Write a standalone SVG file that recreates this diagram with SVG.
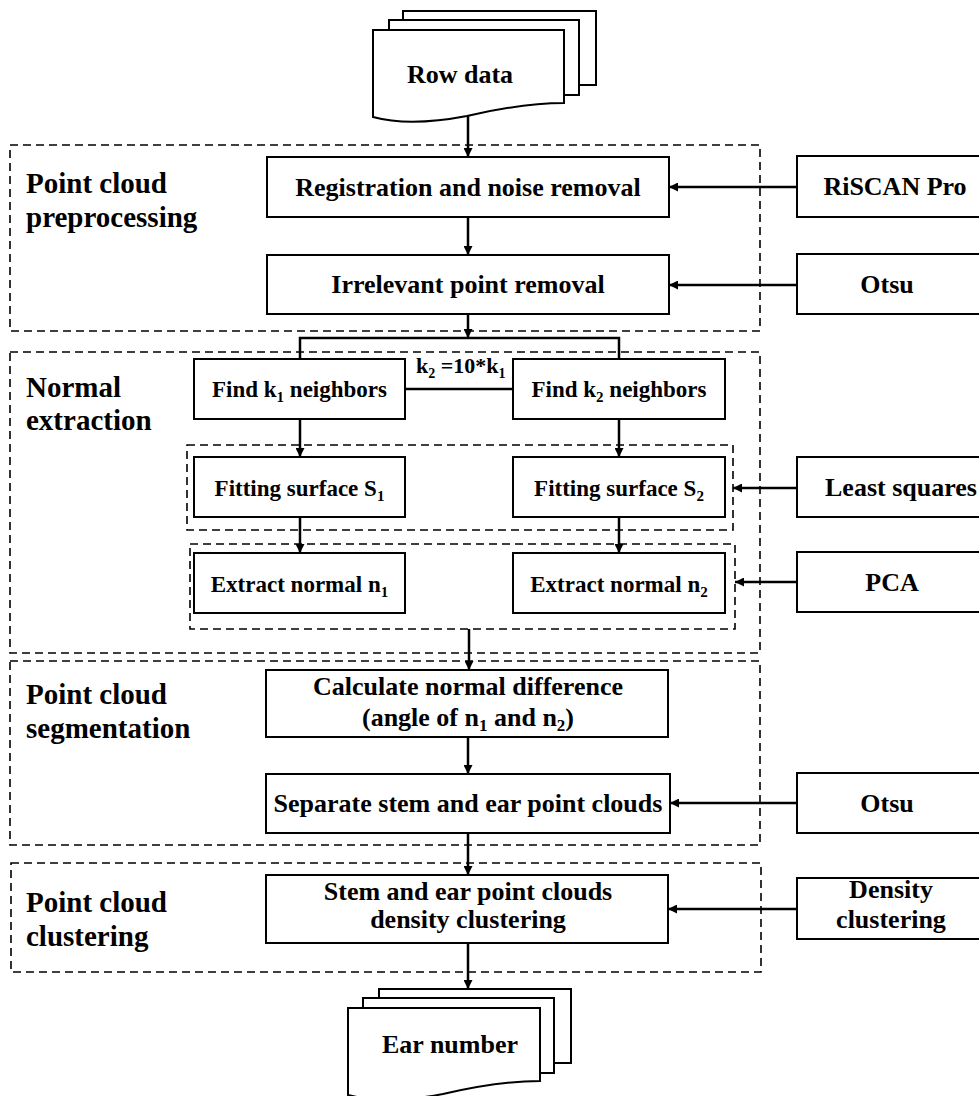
<svg xmlns="http://www.w3.org/2000/svg" width="979" height="1096" viewBox="0 0 979 1096">
<style>
.box{fill:#fff;stroke:#000;stroke-width:2}
.dash{fill:none;stroke:#000;stroke-width:1.6;stroke-dasharray:8 5}
.t{font-family:"Liberation Serif","Times New Roman",serif;font-weight:bold;fill:#000;font-size:26px}
.m{text-anchor:middle}
.s{font-size:23px}
.lab{font-size:29px}
.kl{font-size:22px}
.conn line,.conn path{stroke:#000;stroke-width:2.5;fill:none}
</style>
<defs>
<marker id="ah" viewBox="0 0 10 10" refX="10" refY="5" markerWidth="11" markerHeight="9" markerUnits="userSpaceOnUse" orient="auto">
<path d="M0,0 L10,5 L0,10 z" fill="#000"/>
</marker>
</defs>
<rect width="979" height="1096" fill="#fff"/>

<g id="sections">
<rect class="dash" x="10" y="145" width="750" height="186"/>
<rect class="dash" x="10" y="352" width="750" height="301"/>
<rect class="dash" x="187" y="445" width="546" height="85"/>
<rect class="dash" x="190" y="544" width="545" height="85"/>
<rect class="dash" x="10" y="661" width="750" height="184"/>
<rect class="dash" x="11" y="863" width="750" height="109"/>
<text class="t lab" x="26" y="193">Point cloud</text>
<text class="t lab" x="26" y="227">preprocessing</text>
<text class="t lab" x="26" y="397">Normal</text>
<text class="t lab" x="26" y="430">extraction</text>
<text class="t lab" x="26" y="704">Point cloud</text>
<text class="t lab" x="26" y="738">segmentation</text>
<text class="t lab" x="26" y="912">Point cloud</text>
<text class="t lab" x="26" y="946">clustering</text>
</g>

<g id="row-data">
<rect class="box" x="403" y="11" width="193" height="74"/>
<rect class="box" x="389" y="20" width="190" height="75"/>
<path class="box" d="M373,30 H564 V103 C540,103 510,106 467,116 C425,124 395,123 373,117 Z"/>
<text class="t m" x="460" y="83">Row data</text>
</g>

<g id="registration">
<rect class="box" x="267" y="157" width="402" height="60"/>
<text class="t m" x="468" y="196">Registration and noise removal</text>
</g>
<g id="irrelevant">
<rect class="box" x="267" y="255" width="402" height="59"/>
<text class="t m" x="468" y="293">Irrelevant point removal</text>
</g>
<g id="riscan">
<rect class="box" x="797" y="156" width="200" height="61"/>
<text class="t m" x="895" y="195">RiSCAN Pro</text>
</g>
<g id="otsu1">
<rect class="box" x="797" y="254" width="200" height="60"/>
<text class="t m" x="887" y="293">Otsu</text>
</g>

<g id="find-k1">
<rect class="box" x="194" y="359" width="211" height="60"/>
<text class="t s m" x="299.5" y="397">Find k<tspan font-size="15" dy="5">1</tspan><tspan dy="-5"> neighbors</tspan></text>
</g>
<g id="find-k2">
<rect class="box" x="513" y="359" width="212" height="60"/>
<text class="t s m" x="619" y="397">Find k<tspan font-size="15" dy="5">2</tspan><tspan dy="-5"> neighbors</tspan></text>
</g>
<g id="fit-s1">
<rect class="box" x="194" y="457" width="211" height="60"/>
<text class="t s m" x="299.5" y="496">Fitting surface S<tspan font-size="15" dy="5">1</tspan></text>
</g>
<g id="fit-s2">
<rect class="box" x="513" y="457" width="212" height="60"/>
<text class="t s m" x="619" y="496">Fitting surface S<tspan font-size="15" dy="5">2</tspan></text>
</g>
<g id="ext-n1">
<rect class="box" x="194" y="553" width="211" height="60"/>
<text class="t s m" x="299.5" y="592">Extract normal n<tspan font-size="15" dy="5">1</tspan></text>
</g>
<g id="ext-n2">
<rect class="box" x="513" y="553" width="212" height="60"/>
<text class="t s m" x="619" y="592">Extract normal n<tspan font-size="15" dy="5">2</tspan></text>
</g>
<g id="least-squares">
<rect class="box" x="797" y="457" width="210" height="60"/>
<text class="t" x="825" y="496">Least squares</text>
</g>
<g id="pca">
<rect class="box" x="797" y="552" width="210" height="60"/>
<text class="t m" x="892" y="591">PCA</text>
</g>

<g id="calc">
<rect class="box" x="266" y="670" width="402" height="67"/>
<text class="t m" x="468" y="695">Calculate normal difference</text>
<text class="t m" x="468" y="726">(angle of n<tspan font-size="17" dy="5">1</tspan><tspan dy="-5"> and n</tspan><tspan font-size="17" dy="5">2</tspan><tspan dy="-5">)</tspan></text>
</g>
<g id="separate">
<rect class="box" x="266" y="774" width="404" height="59"/>
<text class="t m" x="468" y="812">Separate stem and ear point clouds</text>
</g>
<g id="otsu2">
<rect class="box" x="797" y="773" width="200" height="60"/>
<text class="t m" x="887" y="812">Otsu</text>
</g>

<g id="cluster">
<rect class="box" x="266" y="875" width="402" height="68"/>
<text class="t m" x="468" y="900">Stem and ear point clouds</text>
<text class="t m" x="468" y="928">density clustering</text>
</g>
<g id="density">
<rect class="box" x="797" y="878" width="200" height="61"/>
<text class="t m" x="891" y="898">Density</text>
<text class="t m" x="891" y="928">clustering</text>
</g>

<g id="ear-number">
<rect class="box" x="379" y="989" width="192" height="74"/>
<rect class="box" x="363" y="998" width="191" height="75"/>
<path class="box" d="M348,1008 H540 V1081 C516,1081 486,1084 443,1094 C401,1102 371,1101 348,1095 Z"/>
<text class="t m" x="450" y="1053">Ear number</text>
</g>

<g id="k-label">
<text class="t kl" x="416" y="373">k<tspan font-size="14" dy="5">2</tspan><tspan dy="-5"> =10*k</tspan><tspan font-size="14" dy="5">1</tspan></text>
</g>

<g class="conn" id="connectors">
<line x1="468" y1="116" x2="468" y2="157" marker-end="url(#ah)"/>
<line x1="468" y1="217" x2="468" y2="255" marker-end="url(#ah)"/>
<line x1="797" y1="187" x2="669" y2="187" marker-end="url(#ah)"/>
<line x1="797" y1="285" x2="669" y2="285" marker-end="url(#ah)"/>
<line x1="468" y1="314" x2="468" y2="338" marker-end="url(#ah)"/>
<path d="M300,359 V338 H619 V359" stroke-width="2"/>
<line x1="405" y1="389" x2="513" y2="389" stroke-width="2"/>
<line x1="300" y1="419" x2="300" y2="457" marker-end="url(#ah)"/>
<line x1="619" y1="419" x2="619" y2="457" marker-end="url(#ah)"/>
<line x1="300" y1="517" x2="300" y2="553" marker-end="url(#ah)"/>
<line x1="619" y1="517" x2="619" y2="553" marker-end="url(#ah)"/>
<line x1="797" y1="488" x2="733" y2="488" marker-end="url(#ah)"/>
<line x1="797" y1="582" x2="735" y2="582" marker-end="url(#ah)"/>
<line x1="469" y1="629" x2="469" y2="670" marker-end="url(#ah)"/>
<line x1="468" y1="737" x2="468" y2="774" marker-end="url(#ah)"/>
<line x1="797" y1="803" x2="670" y2="803" marker-end="url(#ah)"/>
<line x1="468" y1="833" x2="468" y2="875" marker-end="url(#ah)"/>
<line x1="797" y1="909" x2="668" y2="909" marker-end="url(#ah)"/>
<line x1="468" y1="943" x2="468" y2="989" marker-end="url(#ah)"/>
</g>
</svg>
